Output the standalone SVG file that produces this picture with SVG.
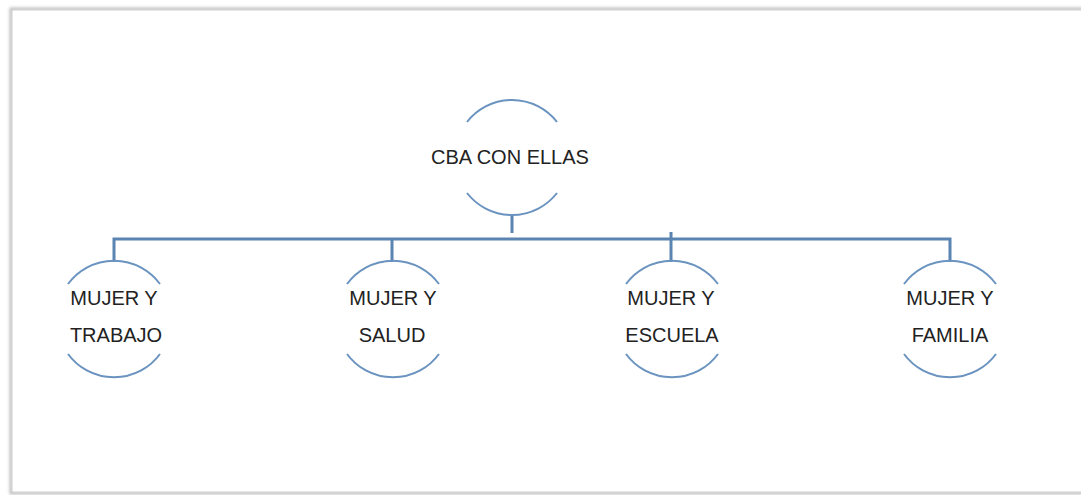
<svg xmlns="http://www.w3.org/2000/svg" width="1081" height="495" viewBox="0 0 1081 495">
<defs>
<filter id="sh" x="-5%" y="-5%" width="110%" height="110%">
<feGaussianBlur stdDeviation="1.5"/>
</filter>
</defs>
<style>
.arc{fill:none;stroke:#6a93c0;stroke-width:2}
.con{fill:none;stroke:#5a84b2;stroke-width:3}
.lbl{font-family:"Liberation Sans",Arial,sans-serif;font-size:20px;fill:#222;text-anchor:middle}
</style>
<rect x="0" y="0" width="1081" height="495" fill="#ffffff"/>
<rect x="11" y="9" width="1080" height="484" fill="none" stroke="#bdbdbd" stroke-width="3" filter="url(#sh)"/>
<rect x="12" y="10" width="1080" height="482" fill="#ffffff" stroke="#d0d0d0" stroke-width="1"/>
<g id="connectors">
<path class="con" d="M512 214 V233"/>
<path class="con" d="M114 262 V239 H950 V262"/>
<path class="con" d="M392 239 V262"/>
<path class="con" d="M671 232 V262"/>
</g>
<g id="root">
<path class="arc" d="M467 122 A57 57 0 0 1 557 122"/>
<path class="arc" d="M467 193 A57 57 0 0 0 557 193"/>
<text class="lbl" x="510" y="164">CBA CON ELLAS</text>
</g>
<g id="trabajo">
<path class="arc" d="M68 284 A57 57 0 0 1 160 284"/>
<path class="arc" d="M68 354 A57 57 0 0 0 160 354"/>
<text class="lbl" x="114" y="305">MUJER Y</text>
<text class="lbl" x="116" y="342">TRABAJO</text>
</g>
<g id="salud">
<path class="arc" d="M347 284 A57 57 0 0 1 439 284"/>
<path class="arc" d="M347 354 A57 57 0 0 0 439 354"/>
<text class="lbl" x="393" y="305">MUJER Y</text>
<text class="lbl" x="392" y="342">SALUD</text>
</g>
<g id="escuela">
<path class="arc" d="M626 284 A57 57 0 0 1 718 284"/>
<path class="arc" d="M626 354 A57 57 0 0 0 718 354"/>
<text class="lbl" x="671" y="305">MUJER Y</text>
<text class="lbl" x="672" y="342">ESCUELA</text>
</g>
<g id="familia">
<path class="arc" d="M904 284 A57 57 0 0 1 996 284"/>
<path class="arc" d="M904 354 A57 57 0 0 0 996 354"/>
<text class="lbl" x="950" y="305">MUJER Y</text>
<text class="lbl" x="950" y="342">FAMILIA</text>
</g>
</svg>
